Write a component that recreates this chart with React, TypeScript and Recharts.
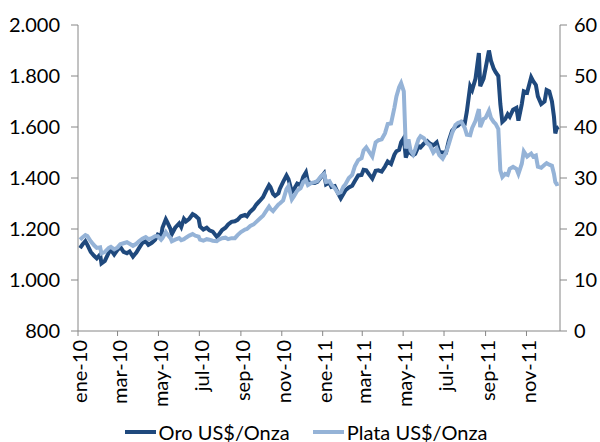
import React from 'react';
import { LineChart, Line, XAxis, YAxis, Legend } from 'recharts';

const fechas = [
  '2010-01-04', '2010-01-08', '2010-01-12', '2010-01-15', '2010-01-20', '2010-01-25', '2010-01-29',
  '2010-02-03', '2010-02-05', '2010-02-10', '2010-02-16', '2010-02-19', '2010-02-24',
  '2010-03-01', '2010-03-05', '2010-03-10', '2010-03-15', '2010-03-19', '2010-03-24', '2010-03-29',
  '2010-04-02', '2010-04-07', '2010-04-12', '2010-04-16', '2010-04-21', '2010-04-26', '2010-04-30',
  '2010-05-05', '2010-05-07', '2010-05-12', '2010-05-14', '2010-05-19', '2010-05-21', '2010-05-26',
  '2010-06-01', '2010-06-04', '2010-06-08', '2010-06-11', '2010-06-16', '2010-06-21', '2010-06-25', '2010-06-30',
  '2010-07-02', '2010-07-07', '2010-07-12', '2010-07-16', '2010-07-21', '2010-07-27', '2010-07-30',
  '2010-08-04', '2010-08-09', '2010-08-13', '2010-08-18', '2010-08-23', '2010-08-27',
  '2010-09-01', '2010-09-07', '2010-09-10', '2010-09-15', '2010-09-20', '2010-09-24', '2010-09-29',
  '2010-10-04', '2010-10-08', '2010-10-13', '2010-10-15', '2010-10-19', '2010-10-22', '2010-10-27', '2010-10-29',
  '2010-11-03', '2010-11-08', '2010-11-11', '2010-11-16', '2010-11-19', '2010-11-24', '2010-11-29',
  '2010-12-03', '2010-12-07', '2010-12-10', '2010-12-15', '2010-12-20', '2010-12-24', '2010-12-30',
  '2011-01-03', '2011-01-06', '2011-01-11', '2011-01-14', '2011-01-19', '2011-01-24', '2011-01-28',
  '2011-02-01', '2011-02-04', '2011-02-09', '2011-02-14', '2011-02-18', '2011-02-23', '2011-02-28',
  '2011-03-03', '2011-03-07', '2011-03-11', '2011-03-16', '2011-03-21', '2011-03-25', '2011-03-30',
  '2011-04-04', '2011-04-08', '2011-04-13', '2011-04-18', '2011-04-21', '2011-04-25', '2011-04-28',
  '2011-05-02', '2011-05-05', '2011-05-09', '2011-05-12', '2011-05-16', '2011-05-19', '2011-05-24', '2011-05-27',
  '2011-06-01', '2011-06-06', '2011-06-10', '2011-06-15', '2011-06-20', '2011-06-24', '2011-06-29',
  '2011-07-04', '2011-07-08', '2011-07-13', '2011-07-18', '2011-07-22', '2011-07-27',
  '2011-08-01', '2011-08-04', '2011-08-09', '2011-08-12', '2011-08-17', '2011-08-22', '2011-08-24', '2011-08-29',
  '2011-09-01', '2011-09-06', '2011-09-09', '2011-09-13', '2011-09-16', '2011-09-20', '2011-09-23', '2011-09-26', '2011-09-30',
  '2011-10-04', '2011-10-07', '2011-10-12', '2011-10-17', '2011-10-20', '2011-10-25', '2011-10-28',
  '2011-11-02', '2011-11-08', '2011-11-11', '2011-11-15', '2011-11-18', '2011-11-23', '2011-11-28',
  '2011-12-01', '2011-12-05', '2011-12-09', '2011-12-12', '2011-12-14', '2011-12-16', '2011-12-19',
];

const oro = [
  1125, 1140, 1152, 1138, 1110, 1095, 1085,
  1100, 1065, 1075, 1108, 1118, 1100,
  1118, 1130, 1110, 1105, 1112, 1092, 1108,
  1125, 1145, 1152, 1138, 1146, 1158, 1178,
  1172, 1205, 1238, 1228, 1200, 1180, 1205,
  1222, 1208, 1240, 1230, 1240, 1258, 1252, 1240,
  1210, 1198, 1205, 1195, 1190, 1170, 1178,
  1196, 1205, 1218, 1228, 1230, 1236,
  1250, 1255, 1250, 1268, 1280, 1296, 1310,
  1325, 1347, 1372, 1365, 1338, 1330, 1340, 1357,
  1385, 1410, 1395, 1345, 1355, 1378, 1372,
  1405, 1422, 1385, 1380, 1380, 1385, 1405,
  1418, 1375, 1382, 1365, 1368, 1340, 1320,
  1338, 1352, 1363, 1370, 1388, 1410, 1412,
  1432, 1430, 1415, 1398, 1428, 1430, 1425,
  1445, 1465, 1455, 1492, 1505, 1510, 1540,
  1557, 1480, 1510, 1498, 1490, 1495, 1525, 1520,
  1535, 1545, 1535, 1528, 1540, 1502, 1500,
  1500, 1545, 1585, 1600, 1605, 1620,
  1615, 1660, 1760, 1745, 1790, 1890, 1760, 1790,
  1830, 1900, 1860, 1830, 1815, 1800, 1690, 1620, 1630,
  1650, 1640, 1668, 1675, 1625, 1690, 1740,
  1735, 1795, 1780, 1765, 1720, 1690, 1700,
  1745, 1740, 1700, 1640, 1575, 1595, 1600,
];

const plata = [
  17.9, 18.4, 18.8, 18.6, 17.6, 16.8, 16.3,
  16.4, 15.2, 15.5, 16.3, 16.5, 16.0,
  16.4, 17.0, 17.2, 17.4, 17.1, 16.7, 17.1,
  17.6, 18.1, 18.4, 18.0, 18.2, 18.6, 18.6,
  17.9, 18.2, 19.4, 19.0, 18.2, 17.6, 17.9,
  18.2, 17.8, 18.0, 18.3, 18.7, 19.0, 18.7, 18.5,
  17.9, 17.7, 18.0, 17.9, 17.7, 17.6, 17.9,
  18.2, 18.3, 18.0, 18.2, 18.2, 18.8,
  19.4, 19.9, 20.0, 20.6, 20.9, 21.4, 22.0,
  22.6, 23.4, 24.4, 24.0, 23.5, 24.0, 24.8, 25.0,
  25.6, 27.8, 28.4, 25.8, 26.4, 27.5, 28.0,
  29.2, 29.6, 28.6, 29.0, 29.2, 29.4, 30.4,
  30.8, 29.2, 29.4, 28.7, 28.0, 27.0, 27.2,
  28.3, 28.8, 30.0, 30.6, 32.3, 33.5, 33.9,
  35.4, 36.0, 35.2, 34.2, 37.0, 37.4, 37.6,
  38.8, 40.6, 40.7, 43.8, 46.0, 47.8, 48.6,
  47.0, 35.8, 37.6, 35.4, 34.6, 35.6, 37.6, 38.2,
  37.8, 36.8, 36.4, 35.0, 35.8, 34.5, 33.8,
  35.0, 36.6, 38.8, 40.4, 40.8, 41.0,
  39.8, 38.5, 38.4, 39.8, 41.2, 43.5, 40.0, 41.6,
  41.8, 43.2, 41.8, 41.0, 40.6, 39.6, 31.5, 30.2, 30.8,
  30.6, 31.8, 32.2, 31.8, 30.8, 32.8, 35.2,
  34.2, 34.8, 34.2, 34.4, 32.2, 32.0, 32.6,
  32.9, 32.6, 32.4, 30.8, 29.2, 28.8, 28.9,
];

// marcas del eje x: una cada dos meses
const marcasFechas = [
  '2010-01-01', '2010-03-01', '2010-05-01', '2010-07-01', '2010-09-01', '2010-11-01',
  '2011-01-01', '2011-03-01', '2011-05-01', '2011-07-01', '2011-09-01', '2011-11-01',
];
const marcasTexto = [
  'ene-10', 'mar-10', 'may-10', 'jul-10', 'sep-10', 'nov-10',
  'ene-11', 'mar-11', 'may-11', 'jul-11', 'sep-11', 'nov-11',
];

const ticksOro = [800, 1000, 1200, 1400, 1600, 1800, 2000];
const ticksPlata = [0, 10, 20, 30, 40, 50, 60];

const ORO = '#1f497d';
const PLATA = '#95b3d7';
const GRIS = '#868686';
const FONT = 'Lato, "Open Sans", sans-serif';
const FS = 20;

const BASE = Date.UTC(2010, 0, 1);
const dia = (s: string) => {
  const [y, m, d] = s.split('-').map(Number);
  return Math.round((Date.UTC(y, m - 1, d) - BASE) / 86400000);
};

const data = fechas.map((f, i) => ({ dia: dia(f), oro: oro[i], plata: plata[i] }));
const marcas = marcasFechas.map(dia);

const miles = (v: number) => String(v).replace(/\B(?=(\d{3})+(?!\d))/g, '.');

function TickFecha(props: any) {
  const { x, y, payload } = props;
  const idx = marcas.indexOf(payload.value);
  return (
    <g transform={`translate(${x + 2},${y}) rotate(-90)`}>
      <text x={0} y={0} dy="0.36em" textAnchor="end" fill="#000" fontSize={FS} fontFamily={FONT}>
        {idx >= 0 ? marcasTexto[idx] : ''}
      </text>
    </g>
  );
}

function Leyenda() {
  const item = (color: string, label: string) => (
    <div style={{ display: 'flex', alignItems: 'center' }}>
      <div style={{ width: 31, height: 4, background: color, marginRight: 3 }} />
      <span>{label}</span>
    </div>
  );
  return (
    <div
      style={{
        display: 'flex',
        justifyContent: 'center',
        gap: 23,
        height: 24,
        paddingTop: 3,
        fontFamily: FONT,
        fontSize: FS,
        color: '#000',
        lineHeight: '22px',
        boxSizing: 'border-box',
        paddingLeft: 12,
      }}
    >
      {item(ORO, 'Oro US$/Onza')}
      {item(PLATA, 'Plata US$/Onza')}
    </div>
  );
}

export default function App() {
  return (
    <div style={{ position: 'absolute', left: 0, top: 0, width: 600, height: 442, background: '#fff' }}>
      <LineChart width={600} height={442} data={data} margin={{ top: 25, right: 0, bottom: 0, left: 0 }}>
        <XAxis
          dataKey="dia"
          type="number"
          domain={[0, 719]}
          ticks={marcas}
          interval={0}
          height={87}
          tickSize={5}
          tickMargin={4}
          stroke={GRIS}
          tick={<TickFecha />}
        />
        <YAxis
          yAxisId="oro"
          domain={[800, 2000]}
          ticks={ticksOro}
          width={78}
          tickSize={7}
          tickMargin={11}
          stroke={GRIS}
          tickFormatter={miles}
          tick={{ fill: '#000', fontSize: FS, fontFamily: FONT }}
        />
        <YAxis
          yAxisId="plata"
          orientation="right"
          domain={[0, 60]}
          ticks={ticksPlata}
          width={40}
          tickSize={7}
          tickMargin={7}
          stroke={GRIS}
          tick={{ fill: '#000', fontSize: FS, fontFamily: FONT }}
        />
        <Legend verticalAlign="bottom" content={<Leyenda />} />
        <Line
          yAxisId="oro"
          type="linear"
          dataKey="oro"
          name="Oro US$/Onza"
          stroke={ORO}
          strokeWidth={4}
          dot={false}
          isAnimationActive={false}
        />
        <Line
          yAxisId="plata"
          type="linear"
          dataKey="plata"
          name="Plata US$/Onza"
          stroke={PLATA}
          strokeWidth={4}
          dot={false}
          isAnimationActive={false}
        />
      </LineChart>
    </div>
  );
}
